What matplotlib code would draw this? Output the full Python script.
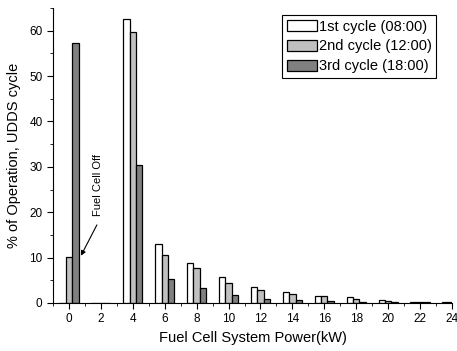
import matplotlib
matplotlib.use("Agg")
import matplotlib.pyplot as plt
import numpy as np
from matplotlib.ticker import MultipleLocator

plt.rcParams['font.family'] = ['Liberation Sans', 'DejaVu Sans']

power = np.arange(0, 25, 2)
cycle1 = [0.0, 0.0, 62.5, 13.0, 8.8, 5.8, 3.5, 2.35, 1.6, 1.3, 0.6, 0.2, 0.1]
cycle2 = [10.2, 0.0, 59.7, 10.5, 7.6, 4.3, 2.8, 1.9, 1.6, 0.8, 0.45, 0.2, 0.1]
cycle3 = [57.2, 0.0, 30.5, 5.3, 3.2, 1.7, 0.95, 0.6, 0.45, 0.2, 0.15, 0.1, 0.05]
labels = ['1st cycle (08:00)', '2nd cycle (12:00)', '3rd cycle (18:00)']
colors = ['white', '#c0c0c0', '#808080']

fig = plt.figure(figsize=(4.57, 3.51), dpi=100)
ax = fig.add_axes([0.116, 0.137, 0.873, 0.840])

w = 0.4
for k, (vals, lab, c) in enumerate(zip([cycle1, cycle2, cycle3], labels, colors)):
    ax.bar(power + (k - 1) * w, vals, width=w, color=c, edgecolor='black',
           linewidth=0.9, label=lab)

ax.set_xlim(-1, 24)
ax.set_ylim(0, 65)
ax.xaxis.set_major_locator(MultipleLocator(2))
ax.xaxis.set_minor_locator(MultipleLocator(1))
ax.yaxis.set_major_locator(MultipleLocator(10))
ax.yaxis.set_minor_locator(MultipleLocator(5))
ax.tick_params(which='major', direction='out', length=4, labelsize=8.5)
ax.tick_params(which='minor', direction='out', length=2)
ax.spines['top'].set_visible(False)
ax.spines['right'].set_visible(False)

ax.set_xlabel('Fuel Cell System Power(kW)', fontsize=10.5)
ax.set_ylabel('% of Operation, UDDS cycle', fontsize=10.5, labelpad=6)

# note and arrow for the zero-power bars
ax.text(1.8, 26, 'Fuel Cell Off', rotation=90, fontsize=8, ha='center', va='center')
ax.annotate('', xy=(0.75, 10.4), xytext=(1.75, 17.2),
            arrowprops=dict(arrowstyle='-|>', color='black', lw=0.8,
                            mutation_scale=7, shrinkA=0, shrinkB=0))

leg = ax.legend(loc='upper right', bbox_to_anchor=(0.96, 0.976), fontsize=10.5,
                fancybox=False, framealpha=1, edgecolor='black',
                handlelength=2.1, handleheight=0.8, borderpad=0.3,
                labelspacing=0.4, handletextpad=0.1, borderaxespad=0.0)
leg.get_frame().set_linewidth(0.8)

fig.savefig('out.png', dpi=100)
